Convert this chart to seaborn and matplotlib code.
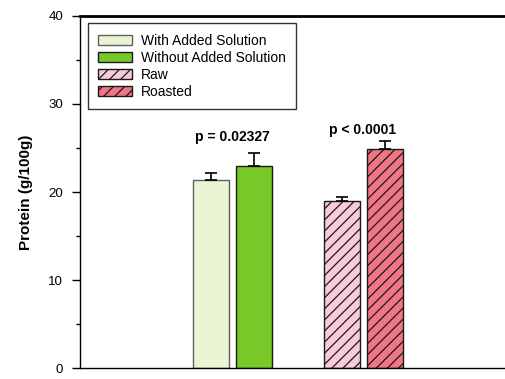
import matplotlib
matplotlib.use("Agg")
import matplotlib.pyplot as plt
import seaborn as sns
import pandas as pd
from matplotlib.patches import Patch
from matplotlib.ticker import MultipleLocator

groups = ["Solution", "Solution", "Cooking", "Cooking"]
slots = ["first", "second", "first", "second"]
labels = ["With Added Solution", "Without Added Solution", "Raw", "Roasted"]
values = [21.4, 22.9, 19.0, 24.9]
errors = [0.8, 1.5, 0.4, 0.9]
colors = ["#EAF5D3", "#78C828", "#F9CADB", "#F07585"]
edges = ["#606060", "#1a1a1a", "#1a1a1a", "#1a1a1a"]
hatches = ["", "", "///", "///"]
annotations = ["p = 0.02327", "p < 0.0001"]
annot_y = [26.3, 27.0]

sns.set_style("ticks")
plt.rcParams['font.family'] = ['Liberation Sans', 'DejaVu Sans']
plt.rcParams['hatch.linewidth'] = 0.9
plt.rcParams['text.color'] = 'black'
plt.rcParams['axes.labelcolor'] = 'black'
plt.rcParams['xtick.color'] = 'black'
plt.rcParams['ytick.color'] = 'black'
plt.rcParams['axes.edgecolor'] = 'black'

df = pd.DataFrame({"group": groups, "slot": slots, "value": values})

fig = plt.figure(figsize=(5.05, 3.79), dpi=100)
ax = fig.add_axes([0.1584, 0.029, 0.8416, 0.9288])

sns.barplot(data=df, x="group", y="value", hue="slot", order=["Solution", "Cooking"],
            hue_order=["first", "second"], dodge=True, width=0.659, gap=0.163,
            errorbar=None, legend=False, ax=ax)

bars = [p for p in ax.patches][:4]
order = [0, 2, 1, 3]
ordered = [bars[i] for i in order]
for p, c, e, h in zip(ordered, colors, edges, hatches):
    p.set_facecolor(c)
    p.set_edgecolor(e)
    p.set_linewidth(1.0)
    p.set_hatch(h)

xs = [p.get_x() + p.get_width() / 2 for p in ordered]
ax.errorbar(xs, values, yerr=[[0] * 4, errors], fmt="none", ecolor="black",
            elinewidth=1.2, capsize=4, capthick=1.2, zorder=1)

for gi, (txt, yy) in enumerate(zip(annotations, annot_y)):
    cx = (xs[2 * gi] + xs[2 * gi + 1]) / 2
    ax.text(cx, yy, txt, ha="center", va="center", fontsize=10, fontweight="bold")

ax.set_ylim(0, 40)
ax.set_xlim(-1.169, 2.088)
ax.yaxis.set_major_locator(MultipleLocator(10))
ax.yaxis.set_minor_locator(MultipleLocator(5))
ax.tick_params(axis="y", which="major", length=6, width=1, labelsize=9.5, pad=6)
ax.tick_params(axis="y", which="minor", length=3, width=1)
ax.set_xticks([])
ax.set_xlabel("")
ax.set_ylabel("Protein (g/100g)", fontsize=11, fontweight="bold", labelpad=11)
for s in ["left", "bottom"]:
    ax.spines[s].set_linewidth(1.0)
ax.spines["top"].set_visible(True)
ax.spines["top"].set_linewidth(2.0)
ax.spines["right"].set_visible(False)

handles = [Patch(facecolor=c, edgecolor=e, hatch=h, linewidth=1.0)
           for c, e, h in zip(colors, edges, hatches)]
leg = ax.legend(handles, labels, loc="upper left", bbox_to_anchor=(0.0188, 0.979),
                fontsize=10, frameon=True, fancybox=False, edgecolor="black",
                handlelength=2.4, handleheight=0.65, handletextpad=0.65,
                labelspacing=0.22, borderpad=0.75, borderaxespad=0)
leg.get_frame().set_linewidth(1.0)

fig.savefig("out.png", dpi=100)
